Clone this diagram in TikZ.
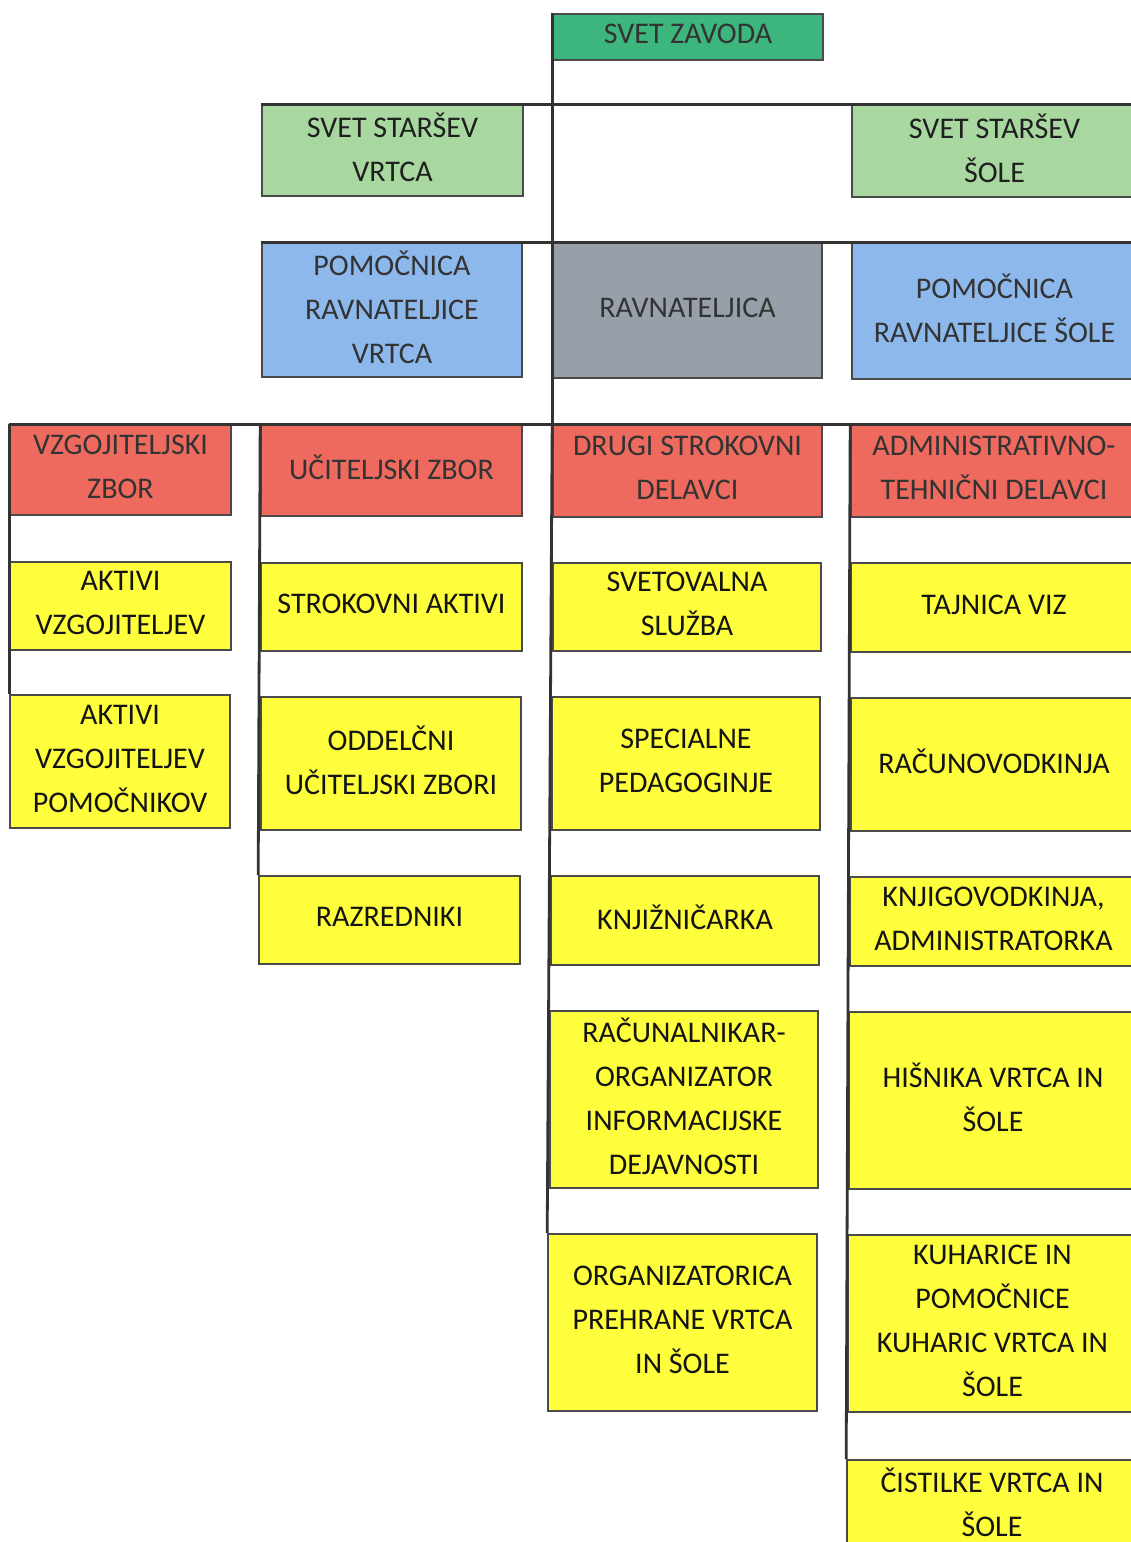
\documentclass[tikz,border=0pt]{standalone}
\usepackage{fontspec}
\setmainfont{Carlito}
\definecolor{teal}{HTML}{3DB67E}
\definecolor{lgreen}{HTML}{A8D8A0}
\definecolor{lblue}{HTML}{8DB8EC}
\definecolor{dgray}{HTML}{97A0A9}
\definecolor{ored}{HTML}{EE6A5E}
\definecolor{oyellow}{HTML}{FEFE3C}
\definecolor{boxline}{HTML}{4A4A4A}
\definecolor{linecol}{HTML}{333333}
\definecolor{softtext}{HTML}{333333}
\newcommand{\orgbox}[7]{%
  \node[box,#6,minimum width={#4-#2},minimum height={#5-#3}] (#1) at ({(#2+#4)/2},{(#3+#5)/2}) {};
  \node[lbl,#6 text] at ([yshift=3pt]#1.center) {#7};}
\begin{document}
\begin{tikzpicture}[x=1pt,y=-1pt,
  box/.style={draw=boxline,line width=1.6pt,inner sep=0pt},
  lbl/.style={inner sep=0pt,align=center,font=\fontsize{30}{44}\selectfont},
  topc/.style={fill=teal}, topc text/.style={text=softtext},
  parc/.style={fill=lgreen}, parc text/.style={text=black!88},
  pomc/.style={fill=lblue}, pomc text/.style={text=softtext},
  ravc/.style={fill=dgray}, ravc text/.style={text=softtext},
  redc/.style={fill=ored}, redc text/.style={text=softtext},
  yelc/.style={fill=oyellow}, yelc text/.style={text=black!92},
  link/.style={draw=linecol,line width=2.8pt}]
\useasboundingbox (0,0) rectangle (1130,1542);
% top
\orgbox{zavod}{553}{14}{823}{60}{topc}{SVET ZAVODA}
\orgbox{ssv}{262}{105}{523}{196}{parc}{SVET STARŠEV\\VRTCA}
\orgbox{sss}{852}{105}{1137}{197}{parc}{SVET STARŠEV\\ŠOLE}
\orgbox{prv}{262}{243}{522}{377}{pomc}{POMOČNICA\\RAVNATELJICE\\VRTCA}
\orgbox{rav}{553}{243}{822}{378}{ravc}{RAVNATELJICA}
\orgbox{prs}{852}{243}{1137}{379}{pomc}{POMOČNICA\\RAVNATELJICE ŠOLE}
% red
\orgbox{vz}{10}{425}{231}{515}{redc}{VZGOJITELJSKI\\ZBOR}
\orgbox{uz}{261}{425}{522}{516}{redc}{UČITELJSKI ZBOR}
\orgbox{dsd}{553}{425}{822}{517}{redc}{DRUGI STROKOVNI\\DELAVCI}
\orgbox{atd}{851}{425}{1137}{517}{redc}{ADMINISTRATIVNO-\\TEHNIČNI DELAVCI}
% column 1
\orgbox{av1}{10}{562}{231}{650}{yelc}{AKTIVI\\VZGOJITELJEV}
\orgbox{av2}{10}{695}{230}{828}{yelc}{AKTIVI\\VZGOJITELJEV\\POMOČNIKOV}
% column 2
\orgbox{sa}{261}{563}{522}{651}{yelc}{STROKOVNI AKTIVI}
\orgbox{ouz}{261}{697}{521}{830}{yelc}{ODDELČNI\\UČITELJSKI ZBORI}
\orgbox{raz}{259}{876}{520}{964}{yelc}{RAZREDNIKI}
% column 3
\orgbox{ss}{553}{563}{821}{651}{yelc}{SVETOVALNA\\SLUŽBA}
\orgbox{sp}{552}{697}{820}{830}{yelc}{SPECIALNE\\PEDAGOGINJE}
\orgbox{kn}{551}{876}{819}{965}{yelc}{KNJIŽNIČARKA}
\orgbox{ra}{550}{1011}{818}{1188}{yelc}{RAČUNALNIKAR-\\ORGANIZATOR\\INFORMACIJSKE\\DEJAVNOSTI}
\orgbox{op}{548}{1234}{817}{1411}{yelc}{ORGANIZATORICA\\PREHRANE VRTCA\\IN ŠOLE}
% column 4
\orgbox{tv}{851}{563}{1137}{652}{yelc}{TAJNICA VIZ}
\orgbox{rac}{851}{698}{1137}{831}{yelc}{RAČUNOVODKINJA}
\orgbox{ka}{850}{877}{1137}{966}{yelc}{KNJIGOVODKINJA,\\ADMINISTRATORKA}
\orgbox{hv}{849}{1012}{1137}{1189}{yelc}{HIŠNIKA VRTCA IN\\ŠOLE}
\orgbox{ku}{848}{1235}{1137}{1412}{yelc}{KUHARICE IN\\POMOČNICE\\KUHARIC VRTCA IN\\ŠOLE}
\orgbox{ci}{847}{1460}{1137}{1550}{yelc}{ČISTILKE VRTCA IN\\ŠOLE}
% connectors
\draw[link] (zavod.north west) -- (dsd.north west);
\draw[link] (ssv.north west) -- (sss.north east);
\draw[link] (prv.north west) -- (prs.north east);
\draw[link] (vz.north west) -- (atd.north east);
\draw[link] (vz.north west) -- (av2.north west);
\draw[link] (uz.north west) -- (raz.north west);
\draw[link] (dsd.north west) -- (op.north west);
\draw[link] (atd.north west) -- (ci.north west);
\end{tikzpicture}
\end{document}
